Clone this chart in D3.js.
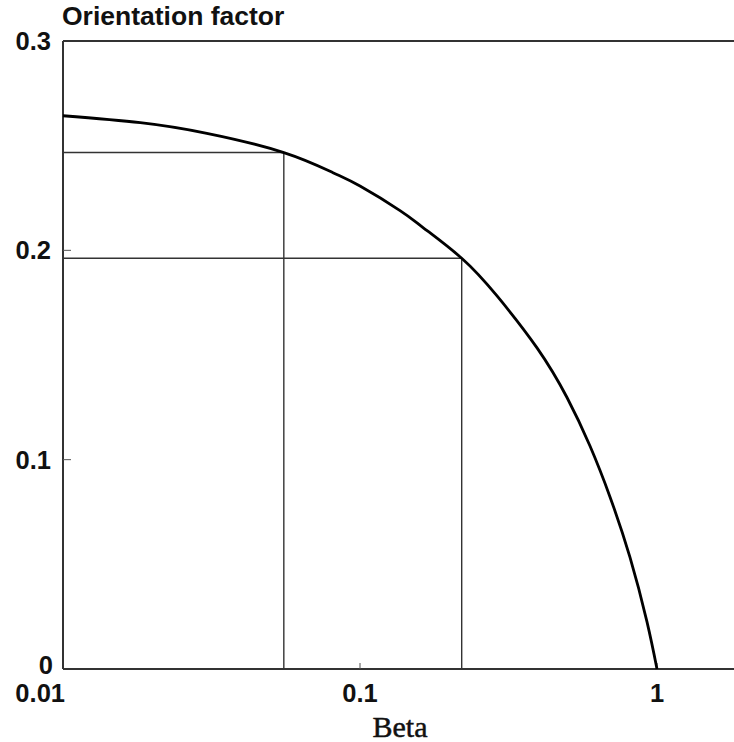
<!DOCTYPE html>
<html>
<head>
<meta charset="utf-8">
<script src="https://cdn.jsdelivr.net/npm/d3@7"></script>
<style>
  html, body { margin: 0; padding: 0; background: #fff; }
  svg { display: block; }
  .tick-label { font-family: "Liberation Sans", Arial, sans-serif; font-weight: bold; font-size: 25.5px; fill: #111; }
  .title { font-family: "Liberation Sans", Arial, sans-serif; font-weight: bold; font-size: 26.5px; fill: #111; }
  .xlabel { font-family: "Liberation Serif", "Times New Roman", serif; font-size: 30px; fill: #111; stroke: #111; stroke-width: 0.5px; }
</style>
</head>
<body>
<script>
// Orientation factor versus beta (log scale)
const beta   = [0.01, 0.0182, 0.0305, 0.0554, 0.0811, 0.1, 0.1364, 0.163, 0.22, 0.2893, 0.3945, 0.4977, 0.5949, 0.6947, 0.8112, 0.9254, 1];
const factor = [0.2643, 0.261, 0.2559, 0.2467, 0.2371, 0.2307, 0.219, 0.2109, 0.1962, 0.1782, 0.1534, 0.1297, 0.1065, 0.0822, 0.0533, 0.0225, 0];

// Reading lines dropped from two points on the curve
const guideBeta   = [0.0554, 0.22];
const guideFactor = [0.2467, 0.1962];

const xTicks = [0.01, 0.1, 1];
const xTickLabels = ["0.01", "0.1", "1"];
const yTicks = [0, 0.1, 0.2, 0.3];
const yTickLabels = ["0", "0.1", "0.2", "0.3"];

const W = 734, H = 742;
const x0 = 63, decade = 297;
const x = d3.scaleLog().domain([0.01, 2]).range([x0, x0 + decade * Math.log10(200)]);
const y = d3.scaleLinear().domain([0, 0.3]).range([669, 41]);

const svg = d3.select("body").append("svg").attr("width", W).attr("height", H);

// frame: left axis, bottom axis, top line
svg.append("line").attr("x1", x(0.01)).attr("x2", x(0.01)).attr("y1", y(0.3)).attr("y2", y(0))
  .attr("stroke", "#333").attr("stroke-width", 2);
svg.append("line").attr("x1", x(0.01)).attr("x2", W).attr("y1", y(0)).attr("y2", y(0))
  .attr("stroke", "#333").attr("stroke-width", 2);
svg.append("line").attr("x1", x(0.01)).attr("x2", W).attr("y1", y(0.3)).attr("y2", y(0.3))
  .attr("stroke", "#333").attr("stroke-width", 2);

// small inward ticks
svg.selectAll(".ytick").data(yTicks.slice(1, 3)).enter().append("line")
  .attr("x1", x(0.01)).attr("x2", x(0.01) + 8)
  .attr("y1", d => y(d)).attr("y2", d => y(d))
  .attr("stroke", "#555").attr("stroke-width", 1);
svg.selectAll(".xtick").data(xTicks.slice(1)).enter().append("line")
  .attr("x1", d => x(d)).attr("x2", d => x(d))
  .attr("y1", y(0)).attr("y2", y(0) - 6)
  .attr("stroke", "#555").attr("stroke-width", 1);

// y tick labels
svg.selectAll(".ylab").data(yTicks).enter().append("text")
  .attr("class", "tick-label")
  .attr("x", (d, i) => i === 0 ? x(0.01) - 10 : x(0.01) - 12)
  .attr("y", (d, i) => i === 0 ? y(d) + 5 : y(d) + 9)
  .attr("text-anchor", "end")
  .text((d, i) => yTickLabels[i]);

// x tick labels
svg.selectAll(".xlab").data(xTicks).enter().append("text")
  .attr("class", "tick-label")
  .attr("x", (d, i) => i === 0 ? x(d) + 2 : x(d))
  .attr("y", 702)
  .attr("text-anchor", (d, i) => i === 0 ? "end" : "middle")
  .text((d, i) => xTickLabels[i]);

// guide lines
guideBeta.forEach((b, i) => {
  svg.append("line").attr("x1", x(0.01)).attr("x2", x(b))
    .attr("y1", y(guideFactor[i])).attr("y2", y(guideFactor[i]))
    .attr("stroke", "#333").attr("stroke-width", 1.4);
  svg.append("line").attr("x1", x(b)).attr("x2", x(b))
    .attr("y1", y(guideFactor[i])).attr("y2", y(0))
    .attr("stroke", "#333").attr("stroke-width", 1.4);
});

// curve
const pts = beta.map((b, i) => [b, factor[i]]);
svg.append("path").datum(pts)
  .attr("fill", "none").attr("stroke", "#000").attr("stroke-width", 2.8)
  .attr("d", d3.line().x(d => x(d[0])).y(d => y(d[1])).curve(d3.curveNatural));

// titles
svg.append("text").attr("class", "title").attr("x", 62).attr("y", 25).text("Orientation factor");
svg.append("text").attr("class", "xlabel").attr("x", 400).attr("y", 737).attr("text-anchor", "middle").text("Beta");
</script>
</body>
</html>
